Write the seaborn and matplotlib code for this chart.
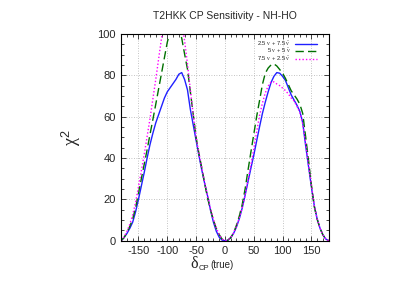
import numpy as np
import pandas as pd
import matplotlib
matplotlib.use("Agg")
import matplotlib.pyplot as plt
import seaborn as sns
from matplotlib.ticker import MultipleLocator

# Gia tri doc tu hinh, buoc 5 do
delta_cp = list(range(-180, 181, 5))

chi2_25_75 = [0, 1.5, 3.5, 6, 9, 14, 20, 26.5, 33, 40, 46.5, 52, 57, 61, 65,
              69, 72, 74, 76, 78, 80.5, 81.3, 78, 73, 63.5, 56, 48.5, 41, 34,
              27.5, 21.5, 14.7, 9, 4.6, 1.7, 0.3,
              0,
              0.2, 1.4, 3.5, 6.6, 10.7, 15.8, 22, 28.5, 35, 41.3, 48.2, 55, 61.5,
              67, 72, 76.5, 79.5, 81.3, 81, 79.5, 77.5, 74, 70.5, 68, 65.5, 62.5,
              57, 46, 36, 26, 17, 10.5, 6, 2.8, 0.8, 0]
chi2_5_5 = [0, 1.5, 4, 7, 10.5, 16, 23, 30, 37, 44, 51.4, 58.6, 66, 73.5, 81,
            88.5, 96, 101, 103.5, 104, 102.5, 98, 90.3, 83, 72, 61, 50, 42, 35,
            27.5, 20.5, 15, 10, 6, 3, 0.8,
            0,
            0.2, 1.5, 3.8, 7.5, 12, 17.5, 25, 34, 42.8, 51.4, 60, 67.7, 75.5,
            81, 83.5, 85, 85.5, 84.5, 82.8, 81, 78.5, 75.5, 72.5, 70.5, 68.5, 66,
            61.5, 50.3, 39, 27, 16.5, 10.5, 6, 2.8, 0.8, 0]
chi2_75_25 = [0, 1.8, 4.5, 8, 12.5, 18.5, 26, 33.8, 41.7, 50.4, 59, 68.6, 78, 88,
              98, 106, 112, 115, 116, 115, 111.5, 106, 96.7, 85.5, 73, 61, 50, 42,
              35, 28, 21.5, 15.5, 10.5, 6.2, 3, 0.8,
              0,
              0.3, 1.5, 3.8, 7, 11, 16, 22, 29.4, 36.5, 44.3, 52.6, 60.5, 66.5,
              71.5, 74.8, 76.8, 76.8, 75.8, 75, 73.8, 72.6, 71, 69, 67.5, 65, 62,
              56.4, 47.5, 37, 27, 17, 10.5, 6, 2.8, 0.8, 0]
labels = [r"2.5 $\nu$ + 7.5 $\bar{\nu}$", r"5 $\nu$ + 5 $\bar{\nu}$", r"7.5 $\nu$ + 2.5 $\bar{\nu}$"]

sns.set_style("ticks")
plt.rcParams['font.family'] = ['Liberation Sans', 'DejaVu Sans']
plt.rcParams['axes.unicode_minus'] = False
plt.rcParams['mathtext.fontset'] = 'custom'
plt.rcParams['mathtext.rm'] = 'Liberation Sans'
plt.rcParams['mathtext.it'] = 'Liberation Serif'

fig = plt.figure(figsize=(4.15, 2.9), dpi=100)
ax = fig.add_axes([0.292, 0.170, 0.500, 0.713])

sns.lineplot(x=delta_cp, y=chi2_25_75, ax=ax, color="#2020ff", lw=1.0, label=labels[0])
sns.lineplot(x=delta_cp, y=chi2_5_5, ax=ax, color="#007000", lw=1.0, label=labels[1],
             linestyle=(0, (6, 3)))
sns.lineplot(x=delta_cp, y=chi2_75_25, ax=ax, color="#ff00ff", lw=1.0, label=labels[2],
             linestyle=(0, (1, 1.5)))

ax.set_xlim(-180, 180)
ax.set_ylim(0, 100)
ax.xaxis.set_major_locator(MultipleLocator(50))
ax.xaxis.set_minor_locator(MultipleLocator(10))
ax.yaxis.set_major_locator(MultipleLocator(20))
ax.yaxis.set_minor_locator(MultipleLocator(5))
ax.tick_params(which="both", direction="in", top=True, right=True, labelsize=8, width=0.6,
               pad=4)
ax.tick_params(which="major", length=3.5)
ax.tick_params(which="minor", length=2)
ax.grid(True, which="major", linestyle=(0, (1, 2)), color="#b0b0b0", lw=0.6)
for s in ax.spines.values():
    s.set_linewidth(0.8)
    s.set_color("black")

ax.set_title("T2HKK CP Sensitivity - NH-HO", fontsize=7.5, pad=11)
ax.set_ylabel(r"$\chi^2$", fontsize=13, labelpad=10)

# nhan truc x: delta (serif), chi so CP nho, "(true)"
fig.text(190.5 / 415, 1 - 268 / 290, "δ", fontsize=11.5, family="Liberation Serif",
         ha="left", va="baseline")
fig.text(199 / 415, 1 - 269.5 / 290, "CP", fontsize=5.5, ha="left", va="baseline")
fig.text(210.5 / 415, 1 - 268 / 290, "(true)", fontsize=7, ha="left", va="baseline")

ax.legend(loc="upper right", bbox_to_anchor=(0.97, 0.995), fontsize=4.2, frameon=False,
          markerfirst=False, handlelength=3.8, labelspacing=-0.15, handletextpad=0.8)

fig.savefig("out.png", dpi=100)
